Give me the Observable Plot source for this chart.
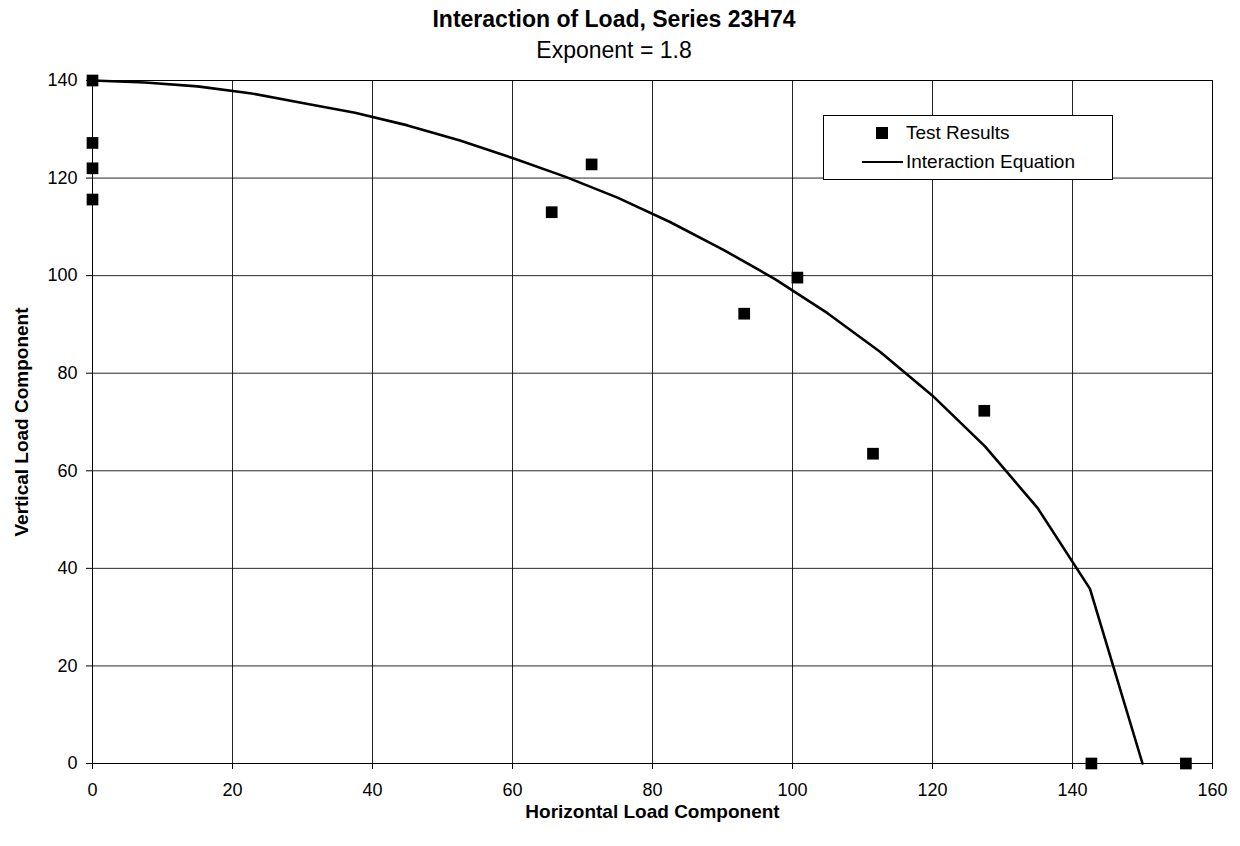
<!DOCTYPE html>
<html>
<head>
<meta charset="utf-8">
<script src="https://cdn.jsdelivr.net/npm/d3@7"></script>
<script src="https://cdn.jsdelivr.net/npm/@observablehq/plot@0.6"></script>
<style>
  html, body { margin: 0; padding: 0; background: #fff; }
  #wrap { position: relative; width: 1240px; height: 846px; font-family: "Liberation Sans", Arial, sans-serif; color: #000; }
  .title { position: absolute; left: 0; width: 1228px; text-align: center; line-height: 26px; }
  #t1 { top: 6px; font-size: 23px; font-weight: bold; }
  #t2 { top: 37px; font-size: 23px; }
  #legend { position: absolute; left: 823px; top: 115px; width: 288px; height: 63px; border: 1px solid #000; background: #fff; font-size: 19px; }
  #legend .row { position: absolute; left: 0; height: 22px; line-height: 22px; white-space: nowrap; }
  #legend .sq { position: absolute; left: 52px; top: 5px; width: 12px; height: 12px; background: #000; }
  #legend .ln { position: absolute; left: 38px; top: 10px; width: 41px; height: 0; border-top: 2px solid #000; }
  #legend .lab { position: absolute; left: 82px; top: 0; }
  svg g[aria-label="x-axis label"] text, svg g[aria-label="y-axis label"] text { font-weight: bold; font-size: 19px; }
</style>
</head>
<body>
<div id="wrap">
  <div id="chart"></div>
  <div class="title" id="t1">Interaction of Load, Series 23H74</div>
  <div class="title" id="t2">Exponent = 1.8</div>
  <div id="legend">
    <div class="row" style="top:6px;width:280px"><div class="sq"></div><div class="lab">Test Results</div></div>
    <div class="row" style="top:35px;width:280px"><div class="ln"></div><div class="lab">Interaction Equation</div></div>
  </div>
</div>
<script>
const xTicks = [0, 20, 40, 60, 80, 100, 120, 140, 160];
const yTicks = [0, 20, 40, 60, 80, 100, 120, 140];

// Test results
const testH = [0, 0, 0, 0, 65.6, 71.3, 93.1, 100.7, 111.5, 127.4, 142.7, 156.2];
const testV = [140, 127.2, 122.0, 115.6, 113.0, 122.8, 92.2, 99.6, 63.5, 72.3, 0, 0];

// Interaction equation curve vertices
const curveH = [0, 7.5, 15, 22.5, 30, 37.5, 45, 52.5, 60, 67.5, 75, 82.5, 90, 97.5, 105, 112.5, 120, 127.5, 135, 142.5, 150];
const curveV = [140, 139.6, 138.8, 137.4, 135.4, 133.4, 130.8, 127.7, 124.1, 120.3, 116.0, 111.0, 105.4, 99.3, 92.3, 84.4, 75.4, 65.0, 52.4, 35.8, 0];

const tests = testH.map((h, i) => ({h, v: testV[i]}));
const curve = curveH.map((h, i) => ({h, v: curveV[i]}));

const chart = Plot.plot({
  width: 1240,
  height: 846,
  marginLeft: 92,
  marginRight: 28,
  marginTop: 80,
  marginBottom: 83,
  style: { fontFamily: "Liberation Sans, Arial, sans-serif", fontSize: "18px", color: "#000", background: "#fff" },
  x: { domain: [0, 160] },
  y: { domain: [0, 140] },
  marks: [
    Plot.gridX(xTicks, { stroke: "#000", strokeOpacity: 0.85, strokeWidth: 1 }),
    Plot.gridY(yTicks, { stroke: "#000", strokeOpacity: 0.85, strokeWidth: 1 }),
    Plot.frame({ stroke: "#000", strokeWidth: 1 }),
    Plot.axisX({ ticks: xTicks, tickSize: 6, tickPadding: 14, label: "Horizontal Load Component", labelAnchor: "center", labelArrow: "none", labelOffset: 54 }),
    Plot.axisY({ ticks: yTicks, tickSize: 6, tickPadding: 9, label: "Vertical Load Component", labelAnchor: "center", labelArrow: "none", labelOffset: 78 }),
    Plot.line(curve, { x: "h", y: "v", stroke: "#000", strokeWidth: 2.6 }),
    Plot.dot(tests, { x: "h", y: "v", symbol: "square", r: 6.6, fill: "#000", stroke: "none" })
  ]
});
document.getElementById("chart").appendChild(chart);
</script>
</body>
</html>
